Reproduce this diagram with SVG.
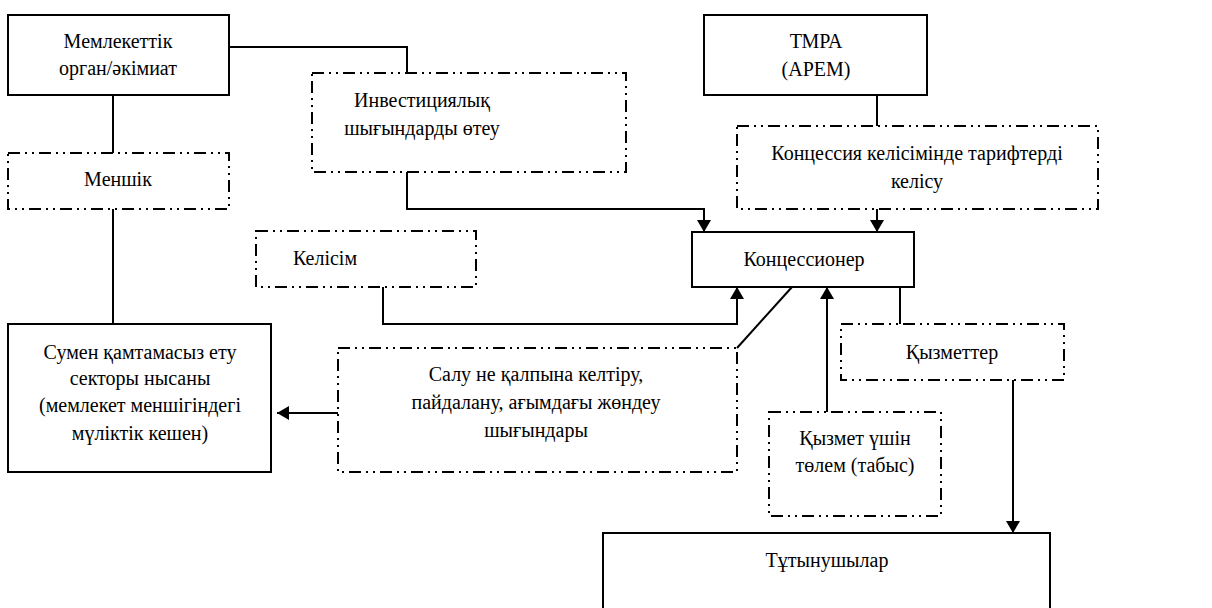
<svg xmlns="http://www.w3.org/2000/svg" width="1212" height="608" viewBox="0 0 1212 608">
<defs>
<marker id="ah" viewBox="0 0 12 14" refX="12" refY="7" markerWidth="12" markerHeight="14" markerUnits="userSpaceOnUse" orient="auto">
<path d="M0,0 L12,7 L0,14 Z" fill="#000"/>
</marker>
</defs>
<style>
.box{fill:#fff;stroke:#000;stroke-width:2}
.dbox{fill:#fff;stroke:#000;stroke-width:2;stroke-dasharray:12 5 2 5 2 5}
.ln{fill:none;stroke:#000;stroke-width:2}
.t{font-family:'Liberation Serif','DejaVu Serif','Noto Serif',serif;font-size:20px;fill:#000;text-anchor:middle}
</style>
<rect width="1212" height="608" fill="#fff"/>
<g id="connectors">
<path class="ln" d="M229,47 H407 V73"/>
<path class="ln" d="M407,172 V209 H704 V232" marker-end="url(#ah)"/>
<path class="ln" d="M113,95 V153"/>
<path class="ln" d="M113,209 V324"/>
<path class="ln" d="M383,287 V324 H737 V287" marker-end="url(#ah)"/>
<path class="ln" d="M338,413 H277" marker-end="url(#ah)"/>
<path class="ln" d="M737,348 L792,287"/>
<path class="ln" d="M877,95 V126"/>
<path class="ln" d="M877,209 V232" marker-end="url(#ah)"/>
<path class="ln" d="M900,287 V324"/>
<path class="ln" d="M827,412 V287" marker-end="url(#ah)"/>
<path class="ln" d="M1013,380 V533" marker-end="url(#ah)"/>
</g>
<g class="t" font-family="Liberation Serif, DejaVu Serif, serif" font-size="20" text-anchor="middle">
<g id="n-memleket">
<rect class="box" x="8" y="15" width="221" height="80"/>
<text x="118" y="48">Мемлекеттік</text>
<text x="118" y="75">орган/әкімиат</text>
</g>
<g id="n-invest">
<rect class="dbox" x="312" y="73" width="314" height="99"/>
<text x="422" y="107">Инвестициялық</text>
<text x="422" y="135">шығындарды өтеу</text>
</g>
<g id="n-tmra">
<rect class="box" x="704" y="15" width="223" height="80"/>
<text x="816" y="48">ТМРА</text>
<text x="816" y="76">(АРЕМ)</text>
</g>
<g id="n-menshik">
<rect class="dbox" x="8" y="153" width="221" height="56"/>
<text x="118" y="186">Меншік</text>
</g>
<g id="n-tariff">
<rect class="dbox" x="737" y="126" width="361" height="83"/>
<text x="917" y="160">Концессия келісімінде тарифтерді</text>
<text x="917" y="188">келісу</text>
</g>
<g id="n-kelisim">
<rect class="dbox" x="256" y="231" width="220" height="56"/>
<text x="325" y="265">Келісім</text>
</g>
<g id="n-koncessioner">
<rect class="box" x="692" y="232" width="222" height="55"/>
<text x="804" y="266">Концессионер</text>
</g>
<g id="n-sumen">
<rect class="box" x="8" y="324" width="263" height="148"/>
<text x="140" y="359">Сумен қамтамасыз ету</text>
<text x="140" y="385">секторы нысаны</text>
<text x="140" y="412">(мемлекет меншігіндегі</text>
<text x="140" y="440">мүліктік кешен)</text>
</g>
<g id="n-salu">
<rect class="dbox" x="338" y="348" width="399" height="124"/>
<text x="536" y="381">Салу не қалпына келтіру,</text>
<text x="536" y="409">пайдалану, ағымдағы жөндеу</text>
<text x="536" y="437">шығындары</text>
</g>
<g id="n-kyzmetter">
<rect class="dbox" x="841" y="324" width="223" height="56"/>
<text x="952" y="359">Қызметтер</text>
</g>
<g id="n-tolem">
<rect class="dbox" x="769" y="412" width="172" height="104"/>
<text x="855" y="445">Қызмет үшін</text>
<text x="855" y="472">төлем (табыс)</text>
</g>
<g id="n-tutynushylar">
<rect class="box" x="603" y="533" width="447" height="90"/>
<text x="827" y="567">Тұтынушылар</text>
</g>
</g>
</svg>
